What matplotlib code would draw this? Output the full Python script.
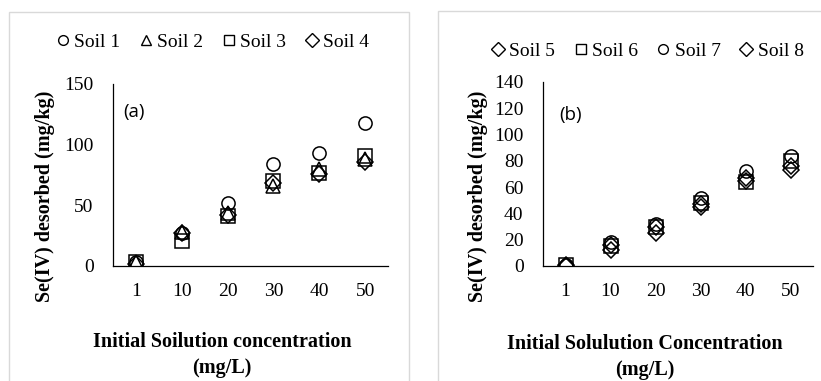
import matplotlib
matplotlib.use("Agg")
import matplotlib.pyplot as plt
from matplotlib.patches import Rectangle
from matplotlib.lines import Line2D

categories = ["1", "10", "20", "30", "40", "50"]

soil1 = [3, 27, 52, 84, 93, 118]
soil2 = [3, 28, 44, 66, 80, 88]
soil3 = [3, 21, 41, 70, 77, 91]
soil4 = [2, 27, 42, 68, 76, 86]

soil5 = [0, 12, 25, 45, 65, 73]
soil6 = [1, 15, 30, 48, 64, 80]
soil7 = [1, 18, 32, 52, 72, 84]
soil8 = [1, 16, 30, 47, 67, 76]

serif = ["Liberation Serif", "DejaVu Serif"]
plt.rcParams["font.family"] = serif

fig = plt.figure(figsize=(8.21, 3.81), dpi=100)
W, H = 821, 381

def fx(x):
    return x / W

def fy(y):
    return 1 - y / H

# panel borders
fig.patches.append(Rectangle((fx(9), fy(400)), fx(400), fy(12) - fy(400),
                             transform=fig.transFigure, fill=False,
                             edgecolor="#d9d9d9", linewidth=1.0))
fig.patches.append(Rectangle((fx(438), fy(400)), fx(400), fy(11) - fy(400),
                             transform=fig.transFigure, fill=False,
                             edgecolor="#d9d9d9", linewidth=1.0))

ax1 = fig.add_axes([fx(113), fy(266), fx(388 - 113), fy(84) - fy(266)])
ax2 = fig.add_axes([fx(543), fy(266), fx(813 - 543), fy(82) - fy(266)])

xs = list(range(len(categories)))
ms = 9.5

def style(ax, ymax, step):
    ax.set_xlim(-0.5, len(categories) - 0.5)
    ax.set_ylim(0, ymax)
    ax.set_yticks(range(0, ymax + 1, step))
    ax.set_xticks(xs)
    ax.set_xticklabels(categories)
    for s in ["top", "right"]:
        ax.spines[s].set_visible(False)
    for s in ["left", "bottom"]:
        ax.spines[s].set_color("black")
        ax.spines[s].set_linewidth(0.9)
    ax.tick_params(length=0, labelsize=14)
    ax.tick_params(axis="y", pad=14)
    ax.tick_params(axis="x", pad=12)

kw = dict(linestyle="none", markerfacecolor="none", markeredgecolor="black",
          markeredgewidth=1.1, markersize=ms)

ax1.plot(xs, soil1, marker="o", label="Soil 1", **kw)
ax1.plot(xs, soil2, marker="^", label="Soil 2", **kw)
ax1.plot(xs, soil3, marker="s", label="Soil 3", **kw)
ax1.plot(xs, soil4, marker="D", label="Soil 4", **{**kw, "markersize": ms * 0.85})
style(ax1, 150, 50)

ax2.plot(xs, soil5, marker="D", label="Soil 5", **{**kw, "markersize": ms * 0.85})
ax2.plot(xs, soil6, marker="s", label="Soil 6", **kw)
ax2.plot(xs, soil7, marker="o", label="Soil 7", **kw)
ax2.plot(xs, soil8, marker="D", label="Soil 8", **{**kw, "markersize": ms * 0.85})
style(ax2, 140, 20)

fig.text(fx(123), fy(112), "(a)", fontsize=13.5, ha="left", va="center",
         family=["Open Sans", "DejaVu Sans"])
fig.text(fx(559), fy(115), "(b)", fontsize=13.5, ha="left", va="center",
         family=["Open Sans", "DejaVu Sans"])

def legend(ax, cx, cy):
    h, l = ax.get_legend_handles_labels()
    hs = [Line2D([], [], linestyle="none", marker=x.get_marker(),
                 markerfacecolor="none", markeredgecolor="black",
                 markeredgewidth=1.0, markersize=7) for x in h]
    fig.legend(hs, l, loc="center", bbox_to_anchor=(fx(cx), fy(cy)),
               ncol=4, frameon=False, fontsize=14, handlelength=0.6,
               handletextpad=0.3, columnspacing=1.0, borderpad=0)

legend(ax1, 213, 42)
legend(ax2, 648, 51)

fig.text(fx(45), fy(196), "Se(IV) desorbed (mg/kg)", rotation=90,
         ha="center", va="center", fontsize=14.5, fontweight="bold")
fig.text(fx(478), fy(196), "Se(IV) desorbed (mg/kg)", rotation=90,
         ha="center", va="center", fontsize=14.5, fontweight="bold")

fig.text(fx(222), fy(355), "Initial Soilution concentration\n(mg/L)",
         ha="center", va="center", fontsize=14.5, fontweight="bold",
         linespacing=1.45)
fig.text(fx(645), fy(357), "Initial Solulution Concentration\n(mg/L)",
         ha="center", va="center", fontsize=14.5, fontweight="bold",
         linespacing=1.4)

fig.savefig("out.png", dpi=100)
